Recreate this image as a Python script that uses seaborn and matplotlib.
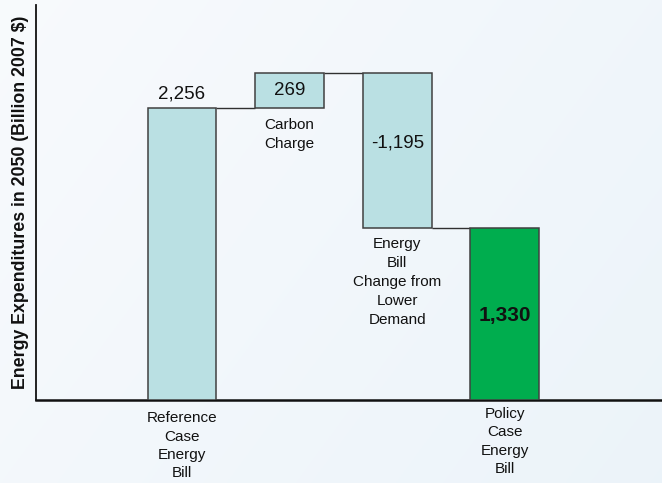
import numpy as np
import pandas as pd
import matplotlib
matplotlib.use("Agg")
import matplotlib.pyplot as plt
import seaborn as sns

# Waterfall of 2050 energy expenditures (billion 2007 $)
steps = ["Reference Case Energy Bill", "Carbon Charge",
         "Energy Bill Change from Lower Demand", "Policy Case Energy Bill"]
changes = [2256, 269, -1195, 1330]
is_total = [True, False, False, True]
value_labels = ["2,256", "269", "-1,195", "1,330"]
axis_labels = ["Reference\nCase\nEnergy\nBill", "", "", "Policy\nCase\nEnergy\nBill"]
step_notes = ["", "Carbon\nCharge", "Energy\nBill\nChange from\nLower\nDemand", ""]

# floating bar bases: totals start at zero, changes start at the running sum
bases = []
running = 0
for v, tot in zip(changes, is_total):
    if tot:
        bases.append(0)
        running = v
    else:
        bases.append(running)
        running += v
tops = [b + v for b, v in zip(bases, changes)]

df = pd.DataFrame({"step": steps, "change": changes})

sns.set_theme(style="white")
plt.rcParams["font.family"] = ["Liberation Sans", "DejaVu Sans"]

fig = plt.figure(figsize=(6.62, 4.83), dpi=100)

# soft blue-white backdrop
bg = fig.add_axes([0, 0, 1, 1], zorder=-10)
gx = np.linspace(0, 1, 256)
gy = np.linspace(0, 1, 256)
GX, GY = np.meshgrid(gx, gy)
t = np.clip(0.65 * GX + 0.35 * GY, 0, 1)
c0 = np.array([0.972, 0.982, 0.992])
c1 = np.array([0.925, 0.955, 0.978])
img = c0[None, None, :] * (1 - t[..., None]) + c1[None, None, :] * t[..., None]
bg.imshow(img, aspect="auto", extent=[0, 1, 0, 1], origin="upper")
bg.axis("off")

ax = fig.add_axes([36 / 662, 1 - 400 / 483, 1 - 36 / 662, 395 / 483])
ax.patch.set_alpha(0)

sns.barplot(data=df, x="step", y="change", bottom=bases, width=0.64,
            color="#BAE0E3", edgecolor="#404040", linewidth=1.1,
            errorbar=None, ax=ax, zorder=3)
fills = ["#BAE0E3", "#BAE0E3", "#BAE0E3", "#00AD4E"]
for p, c in zip(ax.patches, fills):
    p.set_facecolor(c)

half = 0.32
# connector lines between neighbouring bars
for i in range(len(steps) - 1):
    level = tops[i]
    ax.plot([i + half, i + 1 - half], [level, level], color="#303030",
            lw=1.0, zorder=2, solid_capstyle="butt")

ax.set_xlim(-1.357, 4.46)
ax.set_ylim(0, 3050)

# value labels
ax.annotate(value_labels[0], (0, tops[0]), xytext=(0, 4), textcoords="offset points",
            ha="center", va="bottom", fontsize=13.5, color="#111111")
ax.text(1, (bases[1] + tops[1]) / 2, value_labels[1], ha="center", va="center",
        fontsize=13.5, color="#111111", zorder=4)
ax.text(2, tops[2] + (bases[2] - tops[2]) * 0.55, value_labels[2], ha="center",
        va="center", fontsize=13.5, color="#111111", zorder=4)
ax.text(3, tops[3] * 0.49, value_labels[3], ha="center", va="center",
        fontsize=15, fontweight="bold", color="#111111", zorder=4)

# notes under the floating bars
for i in (1, 2):
    ax.annotate(step_notes[i], (i, min(bases[i], tops[i])), xytext=(0, -7),
                textcoords="offset points", ha="center", va="top",
                fontsize=11, linespacing=1.45, color="#111111")

# category labels under the axis
for i, lab in enumerate(axis_labels):
    if not lab:
        continue
    ax.annotate(lab, (i, 0), xycoords=("data", "axes fraction"),
                xytext=(0, -8 if i == 0 else -5), textcoords="offset points",
                ha="center", va="top", fontsize=11, linespacing=1.4,
                color="#111111", annotation_clip=False)

ax.set_xticks([])
ax.set_yticks([])
ax.set_xlabel("")
ax.set_ylabel("Energy Expenditures in 2050 (Billion 2007 $)", fontsize=12.8,
              fontweight="bold", color="#111111", labelpad=5)

for s in ("top", "right"):
    ax.spines[s].set_visible(False)
ax.spines["left"].set_color("#111111")
ax.spines["left"].set_linewidth(1.3)
ax.spines["bottom"].set_color("#111111")
ax.spines["bottom"].set_linewidth(1.8)

fig.savefig("out.png", dpi=100)
